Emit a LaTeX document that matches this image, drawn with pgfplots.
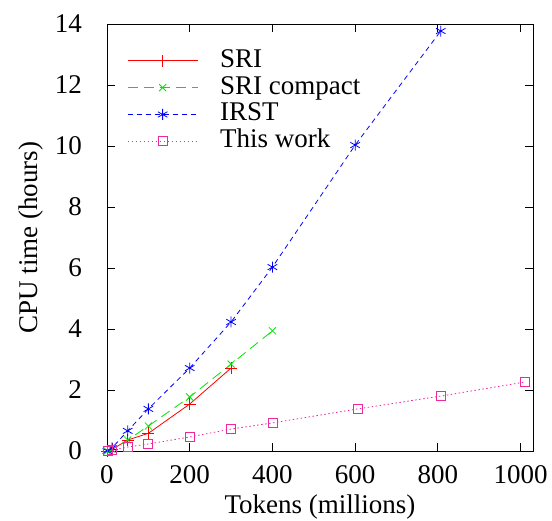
\documentclass[border=0pt]{standalone}
\usepackage{fontspec}
\setmainfont{Liberation Serif}
\usepackage{pgfplots}
\pgfplotsset{compat=1.18}
\definecolor{pinkish}{RGB}{240,40,160}
\definecolor{gpgreen}{RGB}{0,230,0}
\newcommand{\bigfont}{\fontsize{27}{31}\selectfont}
\begin{document}
\bigfont
\begin{tikzpicture}
\useasboundingbox (-107pt,-69pt) rectangle (445pt,451pt);
\begin{axis}[
  scale only axis,
  width=426pt, height=427pt,
  xmin=0, xmax=1030, ymin=0, ymax=14,
  xtick={0,200,...,1000}, ytick={0,2,...,14},
  tick align=inside, major tick length=8pt,
  axis line style={line width=0.9pt},
  every tick/.style={black, line width=0.9pt},
  /pgf/number format/assume math mode=true,
  /pgf/number format/1000 sep={},
  tick label style={font=\bigfont, inner sep=0pt},
  xticklabel style={anchor=north, yshift=-14pt},
  yticklabel style={anchor=east, xshift=-25pt},
  label style={font=\bigfont},
  xlabel={Tokens (millions)},
  ylabel={CPU time (hours)},
  xlabel style={at={(axis description cs:0.5,0)}, anchor=base, yshift=-62pt},
  ylabel style={at={(axis description cs:-0.164,0.5)}, anchor=base},
  legend cell align=left,
  legend style={draw=none, fill=none, at={(0.040,0.9485)}, anchor=north west,
    font=\bigfont, row sep=1.9pt, column sep=22pt,
    nodes={inner sep=0pt, text height=19pt, text depth=6pt}},
  legend image code/.code={\draw[mark repeat=2,mark phase=2,#1]
    plot coordinates {(0pt,0pt) (35pt,0pt) (70pt,0pt)};},
  every axis plot/.append style={line width=0.8pt},
]
\addplot[red, mark=+, mark size=6pt, mark options={solid}] coordinates {
  (1,0) (12,0.05) (50,0.36) (100,0.58) (200,1.54) (300,2.72)
};
\addlegendentry{SRI}
\addplot[gpgreen, dash pattern=on 10pt off 6pt, mark=x, mark size=5pt, mark options={solid}] coordinates {
  (1,0) (12,0.06) (50,0.36) (100,0.82) (200,1.77) (300,2.85) (400,3.94)
};
\addlegendentry{SRI compact}
\addplot[blue, dash pattern=on 5pt off 4pt, mark=asterisk, mark size=5.5pt, mark options={solid}] coordinates {
  (1,0) (12,0.1) (50,0.66) (100,1.38) (200,2.72) (300,4.23) (400,6.03) (600,10.03) (807,13.77)
};
\addlegendentry{IRST}
\addplot[pinkish, dash pattern=on 1.5pt off 2.5pt, mark=square, mark size=4.5pt, mark options={solid}] coordinates {
  (1,0) (12,0.02) (50,0.13) (100,0.23) (200,0.46) (300,0.72) (400,0.92) (606,1.38) (807,1.8) (1010,2.26)
};
\addlegendentry{This work}
\end{axis}
\end{tikzpicture}
\end{document}
